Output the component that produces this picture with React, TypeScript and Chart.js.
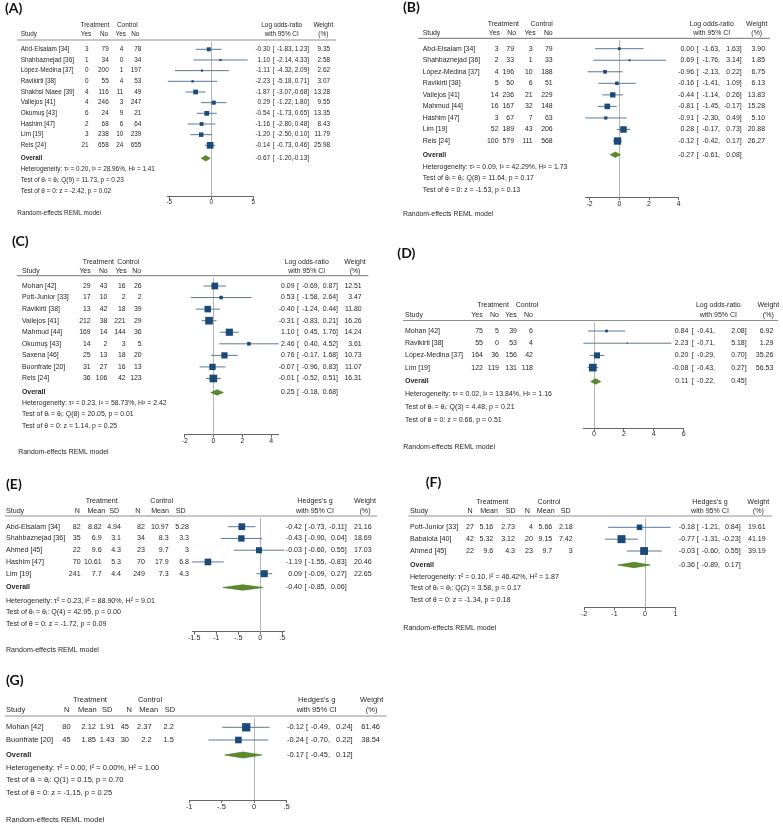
import React, { useEffect, useRef } from 'react';
import { Chart, registerables } from 'chart.js';
Chart.register(...registerables);

const W = 783;
const H = 825;
const FAM = "'Liberation Sans', Arial, Helvetica, 'DejaVu Sans', sans-serif";
const LFAM = "Lato, 'Open Sans', sans-serif";
const TXT = '#262626';
const SQ = '#1b4a7a';
const CIC = '#58799a';
const DIA = '#5b8b2c';
const DIA_S = '#44711d';
const ZERO = '#b5b5b5';
const RULE = '#8f8f8f';
const AXIS = '#666666';

// ---------- Panel A ----------
const studiesA = ['Abd-Elsalam [34]', 'Shahbaznejad [36]', 'López-Medina [37]', 'Ravikirti [38]', 'Shakhsi Niaee [39]', 'Vallejos [41]', 'Okumuş [43]', 'Hashim [47]', 'Lim [19]', 'Reis [24]'];
const trtYesA = [3, 1, 0, 0, 4, 4, 6, 2, 3, 21];
const trtNoA = [79, 34, 200, 55, 116, 246, 24, 68, 238, 658];
const ctlYesA = [4, 0, 1, 4, 11, 3, 9, 6, 10, 24];
const ctlNoA = [78, 34, 197, 53, 49, 247, 21, 64, 239, 655];
const estA = [-0.30, 1.10, -1.11, -2.23, -1.87, 0.29, -0.54, -1.16, -1.20, -0.14];
const loA = [-1.83, -2.14, -4.32, -5.18, -3.07, -1.22, -1.73, -2.80, -2.50, -0.73];
const hiA = [1.23, 4.33, 2.09, 0.71, -0.68, 1.80, 0.65, 0.48, 0.10, 0.46];
const wA = [9.35, 2.58, 2.62, 3.07, 13.28, 9.55, 13.35, 8.43, 11.79, 25.98];
const overallA = [-0.67, -1.20, -0.13];
const hetA = ['Heterogeneity: τ² = 0.20, I² = 28.96%, H² = 1.41', 'Test of θᵢ = θⱼ: Q(9) = 11.73, p = 0.23', 'Test of θ = 0: z = -2.42, p = 0.02'];
const ticksA = [-5, 0, 5];

// ---------- Panel B ----------
const studiesB = ['Abd-Elsalam [34]', 'Shahbaznejad [36]', 'López-Medina [37]', 'Ravikirti [38]', 'Vallejos [41]', 'Mahmud [44]', 'Hashim [47]', 'Lim [19]', 'Reis [24]'];
const trtYesB = [3, 2, 4, 5, 14, 16, 3, 52, 100];
const trtNoB = [79, 33, 196, 50, 236, 167, 67, 189, 579];
const ctlYesB = [3, 1, 10, 6, 21, 32, 7, 43, 111];
const ctlNoB = [79, 33, 188, 51, 229, 148, 63, 206, 568];
const estB = [0.00, 0.69, -0.96, -0.16, -0.44, -0.81, -0.91, 0.28, -0.12];
const loB = [-1.63, -1.76, -2.13, -1.41, -1.14, -1.45, -2.30, -0.17, -0.42];
const hiB = [1.63, 3.14, 0.22, 1.09, 0.26, -0.17, 0.49, 0.73, 0.17];
const wB = [3.90, 1.85, 6.75, 6.13, 13.83, 15.28, 5.10, 20.88, 26.27];
const overallB = [-0.27, -0.61, 0.08];
const hetB = ['Heterogeneity: τ² = 0.09, I² = 42.29%, H² = 1.73', 'Test of θᵢ = θⱼ: Q(8) = 11.64, p = 0.17', 'Test of θ = 0: z = -1.53, p = 0.13'];
const ticksB = [-2, 0, 2, 4];

// ---------- Panel C ----------
const studiesC = ['Mohan [42]', 'Pott-Junior [33]', 'Ravikirti [38]', 'Vallejos [41]', 'Mahmud [44]', 'Okumuş [43]', 'Saxena [46]', 'Buonfrate [20]', 'Reis [24]'];
const trtYesC = [29, 17, 13, 212, 169, 14, 25, 31, 36];
const trtNoC = [43, 10, 42, 38, 14, 2, 13, 27, 106];
const ctlYesC = [16, 2, 18, 221, 144, 3, 18, 16, 42];
const ctlNoC = [26, 2, 39, 29, 36, 5, 20, 13, 123];
const estC = [0.09, 0.53, -0.40, -0.31, 1.10, 2.46, 0.76, -0.07, -0.01];
const loC = [-0.69, -1.58, -1.24, -0.83, 0.45, 0.40, -0.17, -0.96, -0.52];
const hiC = [0.87, 2.64, 0.44, 0.21, 1.76, 4.52, 1.68, 0.83, 0.51];
const wC = [12.51, 3.47, 11.80, 16.26, 14.24, 3.61, 10.73, 11.07, 16.31];
const overallC = [0.25, -0.18, 0.68];
const hetC = ['Heterogeneity: τ² = 0.23, I² = 58.73%, H² = 2.42', 'Test of θᵢ = θⱼ: Q(8) = 20.05, p = 0.01', 'Test of θ = 0: z = 1.14, p = 0.25'];
const ticksC = [-2, 0, 2, 4];

// ---------- Panel D ----------
const studiesD = ['Mohan [42]', 'Ravikirti [38]', 'López-Medina [37]', 'Lim [19]'];
const trtYesD = [75, 55, 164, 122];
const trtNoD = [5, 0, 36, 119];
const ctlYesD = [39, 53, 156, 131];
const ctlNoD = [6, 4, 42, 118];
const estD = [0.84, 2.23, 0.20, -0.08];
const loD = [-0.41, -0.71, -0.29, -0.43];
const hiD = [2.08, 5.18, 0.70, 0.27];
const wD = [6.92, 1.29, 35.26, 56.53];
const overallD = [0.11, -0.22, 0.45];
const hetD = ['Heterogeneity: τ² = 0.02, I² = 13.84%, H² = 1.16', 'Test of θᵢ = θⱼ: Q(3) = 4.48, p = 0.21', 'Test of θ = 0: z = 0.66, p = 0.51'];
const ticksD = [0, 2, 4, 6];

// ---------- Panel E ----------
const studiesE = ['Abd-Elsalam [34]', 'Shahbaznejad [36]', 'Ahmed [45]', 'Hashim [47]', 'Lim [19]'];
const nTE = [82, 35, 22, 70, 241];
const meanTE = [8.82, 6.9, 9.6, 10.61, 7.7];
const sdTE = [4.94, 3.1, 4.3, 5.3, 4.4];
const nCE = [82, 34, 23, 70, 249];
const meanCE = [10.97, 8.3, 9.7, 17.9, 7.3];
const sdCE = [5.28, 3.3, 3, 6.8, 4.3];
const estE = [-0.42, -0.43, -0.03, -1.19, 0.09];
const loE = [-0.73, -0.90, -0.60, -1.55, -0.09];
const hiE = [-0.11, 0.04, 0.55, -0.83, 0.27];
const wE = [21.16, 18.69, 17.03, 20.46, 22.65];
const overallE = [-0.40, -0.85, 0.06];
const hetE = ['Heterogeneity: τ² = 0.23, I² = 88.90%, H² = 9.01', 'Test of θᵢ = θⱼ: Q(4) = 42.95, p = 0.00', 'Test of θ = 0: z = -1.72, p = 0.09'];
const ticksE = [-1.5, -1, -0.5, 0, 0.5];

// ---------- Panel F ----------
const studiesF = ['Pott-Junior [33]', 'Babalola [40]', 'Ahmed [45]'];
const nTF = [27, 42, 22];
const meanTF = [5.16, 5.32, 9.6];
const sdTF = [2.73, 3.12, 4.3];
const nCF = [4, 20, 23];
const meanCF = [5.66, 9.15, 9.7];
const sdCF = [2.18, 7.42, 3];
const estF = [-0.18, -0.77, -0.03];
const loF = [-1.21, -1.31, -0.60];
const hiF = [0.84, -0.23, 0.55];
const wF = [19.61, 41.19, 39.19];
const overallF = [-0.36, -0.89, 0.17];
const hetF = ['Heterogeneity: τ² = 0.10, I² = 46.42%, H² = 1.87', 'Test of θᵢ = θⱼ: Q(2) = 3.58, p = 0.17', 'Test of θ = 0: z = -1.34, p = 0.18'];
const ticksF = [-2, -1, 0, 1];

// ---------- Panel G ----------
const studiesG = ['Mohan [42]', 'Buonfrate [20]'];
const nTG = [80, 45];
const meanTG = [2.12, 1.85];
const sdTG = [1.91, 1.43];
const nCG = [45, 30];
const meanCG = [2.37, 2.2];
const sdCG = [2.2, 1.5];
const estG = [-0.12, -0.24];
const loG = [-0.49, -0.70];
const hiG = [0.24, 0.22];
const wG = [61.46, 38.54];
const overallG = [-0.17, -0.45, 0.12];
const hetG = ['Heterogeneity: τ² = 0.00, I² = 0.00%, H² = 1.00', 'Test of θᵢ = θⱼ: Q(1) = 0.15, p = 0.70', 'Test of θ = 0: z = -1.15, p = 0.25'];
const ticksG = [-1, -0.5, 0, 0.5];

const BIN_HEAD = ['Yes', 'No', 'Yes', 'No'];
const CONT_HEAD = ['N', 'Mean', 'SD', 'N', 'Mean', 'SD'];
const OR_HEAD = ['Log odds-ratio', 'with 95% CI'];
const G_HEAD = ["Hedges's g", 'with 95% CI'];

type Layout = {
  fs: number; letterX: number; letterY: number; groupY: number; subY: number; ruleY: number;
  ruleX1: number; ruleX2: number; studyX: number; groupC: number[]; subC: number[]; colR: number[];
  row0: number; rowStep: number; overallY: number; hetY: number[]; axisY: number; remlX: number; remlY: number;
  zeroX: number; ppu: number; estR: number; brX: number; loR: number; hiR: number; wR: number;
  effHC: number; wHC: number; k: number; dh: number;
};

type Panel = {
  letter: string; studies: string[]; cols: number[][]; subHeads: string[]; effHead: string[];
  est: number[]; lo: number[]; hi: number[]; w: number[]; overall: number[]; het: string[]; ticks: number[];
  L: Layout;
};

const PANELS: Panel[] = [
  {
    letter: 'A', studies: studiesA, cols: [trtYesA, trtNoA, ctlYesA, ctlNoA], subHeads: BIN_HEAD, effHead: OR_HEAD,
    est: estA, lo: loA, hi: hiA, w: wA, overall: overallA, het: hetA, ticks: ticksA,
    L: {
      fs: 6.4, letterX: 5, letterY: 8, groupY: 25.7, subY: 34.3, ruleY: 40, ruleX1: 17, ruleX2: 336, studyX: 20.7,
      groupC: [95, 127.3], subC: [86, 104, 120.7, 135.3], colR: [88.5, 108.7, 123.3, 141.3],
      row0: 49.3, rowStep: 10.67, overallY: 158.3, hetY: [169.3, 180.3, 191], axisY: 196.5, remlX: 17.3, remlY: 213.3,
      zeroX: 211.3, ppu: 8.4, estR: 270, brX: 272.7, loR: 293.3, hiR: 309, wR: 330, effHC: 281.7, wHC: 323.3, k: 1.31, dh: 2.8,
    },
  },
  {
    letter: 'B', studies: studiesB, cols: [trtYesB, trtNoB, ctlYesB, ctlNoB], subHeads: BIN_HEAD, effHead: OR_HEAD,
    est: estB, lo: loB, hi: hiB, w: wB, overall: overallB, het: hetB, ticks: ticksB,
    L: {
      fs: 6.9, letterX: 403, letterY: 7.3, groupY: 24, subY: 32.7, ruleY: 38.3, ruleX1: 418.3, ruleX2: 770, studyX: 422.7,
      groupC: [503.3, 541.7], subC: [494.3, 511.7, 530, 548.3], colR: [498.5, 514, 532.7, 552.7],
      row0: 48.7, rowStep: 11.54, overallY: 154.7, hetY: [166.7, 178.3, 190], axisY: 197.3, remlX: 403, remlY: 214.5,
      zeroX: 619.3, ppu: 14.85, estR: 694, brX: 696.7, loR: 720, hiR: 741.7, wR: 765, effHC: 711.7, wHC: 756.7, k: 1.43, dh: 2.7,
    },
  },
  {
    letter: 'C', studies: studiesC, cols: [trtYesC, trtNoC, ctlYesC, ctlNoC], subHeads: BIN_HEAD, effHead: OR_HEAD,
    est: estC, lo: loC, hi: hiC, w: wC, overall: overallC, het: hetC, ticks: ticksC,
    L: {
      fs: 6.9, letterX: 12, letterY: 241.7, groupY: 261.7, subY: 270.7, ruleY: 275.7, ruleX1: 16.7, ruleX2: 368.3, studyX: 22,
      groupC: [98.3, 128.3], subC: [85, 103.3, 121, 136.7], colR: [90.7, 107.3, 125.7, 141.7],
      row0: 286, rowStep: 11.56, overallY: 392.5, hetY: [402.7, 414.3, 426], axisY: 434.5, remlX: 18.3, remlY: 451.7,
      zeroX: 213.5, ppu: 14.4, estR: 294.5, brX: 297, loR: 319.5, hiR: 338, wR: 361.7, effHC: 306.7, wHC: 355, k: 1.9, dh: 2.7,
    },
  },
  {
    letter: 'D', studies: studiesD, cols: [trtYesD, trtNoD, ctlYesD, ctlNoD], subHeads: BIN_HEAD, effHead: OR_HEAD,
    est: estD, lo: loD, hi: hiD, w: wD, overall: overallD, het: hetD, ticks: ticksD,
    L: {
      fs: 7.0, letterX: 397.3, letterY: 253.3, groupY: 305, subY: 315.5, ruleY: 320.5, ruleX1: 403, ruleX2: 778.3, studyX: 405,
      groupC: [493, 527], subC: [477, 494.5, 511, 528.5], colR: [483, 499, 517, 533],
      row0: 331, rowStep: 12.2, overallY: 381.5, hetY: [394, 407, 420], axisY: 428, remlX: 403.3, remlY: 447,
      zeroX: 594, ppu: 14.95, estR: 688.3, brX: 691.7, loR: 715, hiR: 746.7, wR: 773.3, effHC: 718.3, wHC: 768.3, k: 1.02, dh: 2.7,
    },
  },
  {
    letter: 'E', studies: studiesE, cols: [nTE, meanTE, sdTE, nCE, meanCE, sdCE], subHeads: CONT_HEAD, effHead: G_HEAD,
    est: estE, lo: loE, hi: hiE, w: wE, overall: overallE, het: hetE, ticks: ticksE,
    L: {
      fs: 7.1, letterX: 6, letterY: 484.3, groupY: 501, subY: 510.7, ruleY: 516, ruleX1: 5, ruleX2: 377, studyX: 6,
      groupC: [101.7, 161.7], subC: [77.3, 96.3, 114.3, 137.7, 160, 180.7], colR: [80.7, 101.7, 121, 145, 168.7, 189],
      row0: 526.7, rowStep: 11.75, overallY: 587.5, hetY: [600.7, 612, 624], axisY: 631.7, remlX: 6, remlY: 650,
      zeroX: 260.3, ppu: 44, estR: 302, brX: 304.5, loR: 326.5, hiR: 346.7, wR: 371.7, effHC: 315, wHC: 365, k: 1.47, dh: 2.7,
    },
  },
  {
    letter: 'F', studies: studiesF, cols: [nTF, meanTF, sdTF, nCF, meanCF, sdCF], subHeads: CONT_HEAD, effHead: G_HEAD,
    est: estF, lo: loF, hi: hiF, w: wF, overall: overallF, het: hetF, ticks: ticksF,
    L: {
      fs: 7.1, letterX: 425.7, letterY: 482.7, groupY: 501.7, subY: 511, ruleY: 516, ruleX1: 408.3, ruleX2: 771.7, studyX: 410,
      groupC: [492.3, 549], subC: [470, 489, 510.7, 527.3, 545.7, 565.7], colR: [474, 493.3, 515, 533, 552.3, 572.7],
      row0: 527.3, rowStep: 11.85, overallY: 565, hetY: [577, 588.5, 600], axisY: 607.3, remlX: 403.3, remlY: 628,
      zeroX: 645, ppu: 30.5, estR: 695, brX: 696.7, loR: 720, hiR: 740.7, wR: 765.7, effHC: 710, wHC: 758.3, k: 1.25, dh: 2.7,
    },
  },
  {
    letter: 'G', studies: studiesG, cols: [nTG, meanTG, sdTG, nCG, meanCG, sdCG], subHeads: CONT_HEAD, effHead: G_HEAD,
    est: estG, lo: loG, hi: hiG, w: wG, overall: overallG, het: hetG, ticks: ticksG,
    L: {
      fs: 7.5, letterX: 6, letterY: 680, groupY: 700, subY: 710, ruleY: 716, ruleX1: 5, ruleX2: 386.7, studyX: 6,
      groupC: [90, 150], subC: [66.7, 87.3, 107.3, 129.3, 148.7, 170], colR: [70.7, 96, 114.3, 129, 151.7, 174],
      row0: 727.3, rowStep: 12.7, overallY: 755, hetY: [767.7, 780, 792.7], axisY: 800, remlX: 6, remlY: 820,
      zeroX: 254, ppu: 65, estR: 304, brX: 306, loR: 330, hiR: 352.7, wR: 380, effHC: 316.7, wHC: 371.7, k: 1.06, dh: 3,
    },
  },
];

const fmtTick = (v: number) => String(v).replace(/^(-?)0\./, '$1.');

function makeChart(canvas: HTMLCanvasElement, p: Panel) {
  const L = p.L;
  const xmin = Math.min(p.ticks[0], ...p.lo);
  const xmax = Math.max(p.ticks[p.ticks.length - 1], ...p.hi);
  const axisH = 14;
  const padL = L.zeroX + xmin * L.ppu;
  const padR = W - (L.zeroX + xmax * L.ppu);
  const padT = L.ruleY;
  const padB = H - L.axisY - axisH;
  const yMin = (L.ruleY - L.row0) / L.rowStep;
  const yMax = (L.axisY - L.row0) / L.rowStep;
  const yOverall = (L.overallY - L.row0) / L.rowStep;

  const sqRadius = (c: any) => (L.k * Math.sqrt(p.w[c.dataIndex] ?? 0)) / Math.SQRT2;
  const squares: any = {
    label: 'est',
    data: p.est.map((v, i) => ({ x: v, y: i })),
    pointStyle: 'rect',
    pointRadius: sqRadius,
    pointHoverRadius: sqRadius,
    backgroundColor: SQ,
    borderColor: SQ,
    borderWidth: 0,
    pointBorderWidth: 0,
    order: 0,
    clip: false,
  };
  const cis: any[] = p.est.map((_, i) => ({
    label: 'ci' + i,
    data: [{ x: p.lo[i], y: i }, { x: p.hi[i], y: i }],
    showLine: true,
    borderColor: CIC,
    borderWidth: 1,
    pointRadius: 0,
    pointHoverRadius: 0,
    order: 1,
    clip: false,
  }));

  const text = (ctx: CanvasRenderingContext2D, s: string, x: number, y: number, align: CanvasTextAlign, bold = false) => {
    ctx.font = `${bold ? 'bold ' : ''}${L.fs}px ${FAM}`;
    ctx.textAlign = align;
    ctx.textBaseline = 'middle';
    ctx.fillStyle = TXT;
    ctx.fillText(s, x, y);
  };
  const eff = (ctx: CanvasRenderingContext2D, e: number, lo: number, hi: number, y: number) => {
    text(ctx, e.toFixed(2), L.estR, y, 'right');
    text(ctx, '[', L.brX, y, 'left');
    text(ctx, lo.toFixed(2) + ',', L.loR, y, 'right');
    text(ctx, hi.toFixed(2) + ']', L.hiR, y, 'right');
  };

  const plugin = {
    id: 'forest' + p.letter,
    beforeDatasetsDraw(chart: any) {
      const { ctx, chartArea, scales } = chart;
      ctx.save();
      ctx.strokeStyle = RULE;
      ctx.lineWidth = 1.2;
      ctx.beginPath();
      ctx.moveTo(L.ruleX1, L.ruleY);
      ctx.lineTo(L.ruleX2, L.ruleY);
      ctx.stroke();
      const zx = Math.round(scales.x.getPixelForValue(0)) + 0.5;
      ctx.strokeStyle = ZERO;
      ctx.lineWidth = 1;
      ctx.beginPath();
      ctx.moveTo(zx, chartArea.top + 2);
      ctx.lineTo(zx, chartArea.bottom);
      ctx.stroke();
      ctx.restore();
    },
    afterDatasetsDraw(chart: any) {
      const { ctx, scales } = chart;
      const xl = scales.x.getPixelForValue(p.overall[1]);
      const xm = scales.x.getPixelForValue(p.overall[0]);
      const xr = scales.x.getPixelForValue(p.overall[2]);
      const yc = scales.y.getPixelForValue(yOverall);
      ctx.save();
      ctx.beginPath();
      ctx.moveTo(xl, yc);
      ctx.lineTo(xm, yc - L.dh);
      ctx.lineTo(xr, yc);
      ctx.lineTo(xm, yc + L.dh);
      ctx.closePath();
      ctx.fillStyle = DIA;
      ctx.fill();
      ctx.strokeStyle = DIA_S;
      ctx.lineWidth = 0.6;
      ctx.stroke();
      ctx.restore();
    },
    afterDraw(chart: any) {
      const { ctx, scales } = chart;
      ctx.save();
      ctx.font = `bold 14px ${LFAM}`;
      ctx.textAlign = 'left';
      ctx.textBaseline = 'middle';
      ctx.fillStyle = '#111';
      ctx.fillText(`(${p.letter})`, L.letterX, L.letterY);

      text(ctx, 'Treatment', L.groupC[0], L.groupY, 'center');
      text(ctx, 'Control', L.groupC[1], L.groupY, 'center');
      text(ctx, 'Study', L.studyX, L.subY, 'left');
      p.subHeads.forEach((h, j) => text(ctx, h, L.subC[j], L.subY, 'center'));
      text(ctx, p.effHead[0], L.effHC, L.groupY, 'center');
      text(ctx, p.effHead[1], L.effHC, L.subY, 'center');
      text(ctx, 'Weight', L.wHC, L.groupY, 'center');
      text(ctx, '(%)', L.wHC, L.subY, 'center');

      p.studies.forEach((s, i) => {
        const yy = scales.y.getPixelForValue(i);
        text(ctx, s, L.studyX, yy, 'left');
        p.cols.forEach((col, j) => text(ctx, String(col[i]), L.colR[j], yy, 'right'));
        eff(ctx, p.est[i], p.lo[i], p.hi[i], yy);
        text(ctx, p.w[i].toFixed(2), L.wR, yy, 'right');
      });
      const oy = scales.y.getPixelForValue(yOverall);
      text(ctx, 'Overall', L.studyX, oy, 'left', true);
      eff(ctx, p.overall[0], p.overall[1], p.overall[2], oy);
      p.het.forEach((h, j) => text(ctx, h, L.studyX, L.hetY[j], 'left'));
      text(ctx, 'Random-effects REML model', L.remlX, L.remlY, 'left');
      ctx.restore();
    },
  };

  return new Chart(canvas, {
    type: 'scatter',
    data: { datasets: [squares, ...cis] },
    options: {
      responsive: false,
      maintainAspectRatio: false,
      animation: false,
      events: [],
      layout: { autoPadding: false, padding: { left: padL, right: padR, top: padT, bottom: padB } },
      plugins: { legend: { display: false }, tooltip: { enabled: false }, title: { display: false } },
      scales: {
        x: {
          type: 'linear',
          min: xmin,
          max: xmax,
          afterBuildTicks: (s: any) => { s.ticks = p.ticks.map((v) => ({ value: v })); },
          afterFit: (s: any) => { s.height = axisH; },
          grid: { display: true, drawOnChartArea: false, drawTicks: true, tickLength: 3, color: AXIS, lineWidth: 1 },
          border: { display: true, color: AXIS, width: 1 },
          ticks: {
            autoSkip: false,
            maxRotation: 0,
            padding: 0,
            color: TXT,
            font: { size: L.fs, family: FAM, lineHeight: 1 },
            callback: (v: any) => fmtTick(Number(v)),
          },
        },
        y: {
          type: 'linear',
          display: false,
          reverse: true,
          min: yMin,
          max: yMax,
        },
      },
    } as any,
    plugins: [plugin],
  });
}

export default function App() {
  const refs = useRef<(HTMLCanvasElement | null)[]>([]);
  useEffect(() => {
    const charts = PANELS.map((p, i) => makeChart(refs.current[i] as HTMLCanvasElement, p));
    return () => charts.forEach((c) => c.destroy());
  }, []);
  return (
    <div style={{ position: 'absolute', left: 0, top: 0, width: W, height: H, background: '#fff', overflow: 'hidden' }}>
      {PANELS.map((p, i) => (
        <canvas
          key={p.letter}
          ref={(el) => { refs.current[i] = el; }}
          width={W}
          height={H}
          style={{ position: 'absolute', left: 0, top: 0, width: W, height: H }}
        />
      ))}
    </div>
  );
}
